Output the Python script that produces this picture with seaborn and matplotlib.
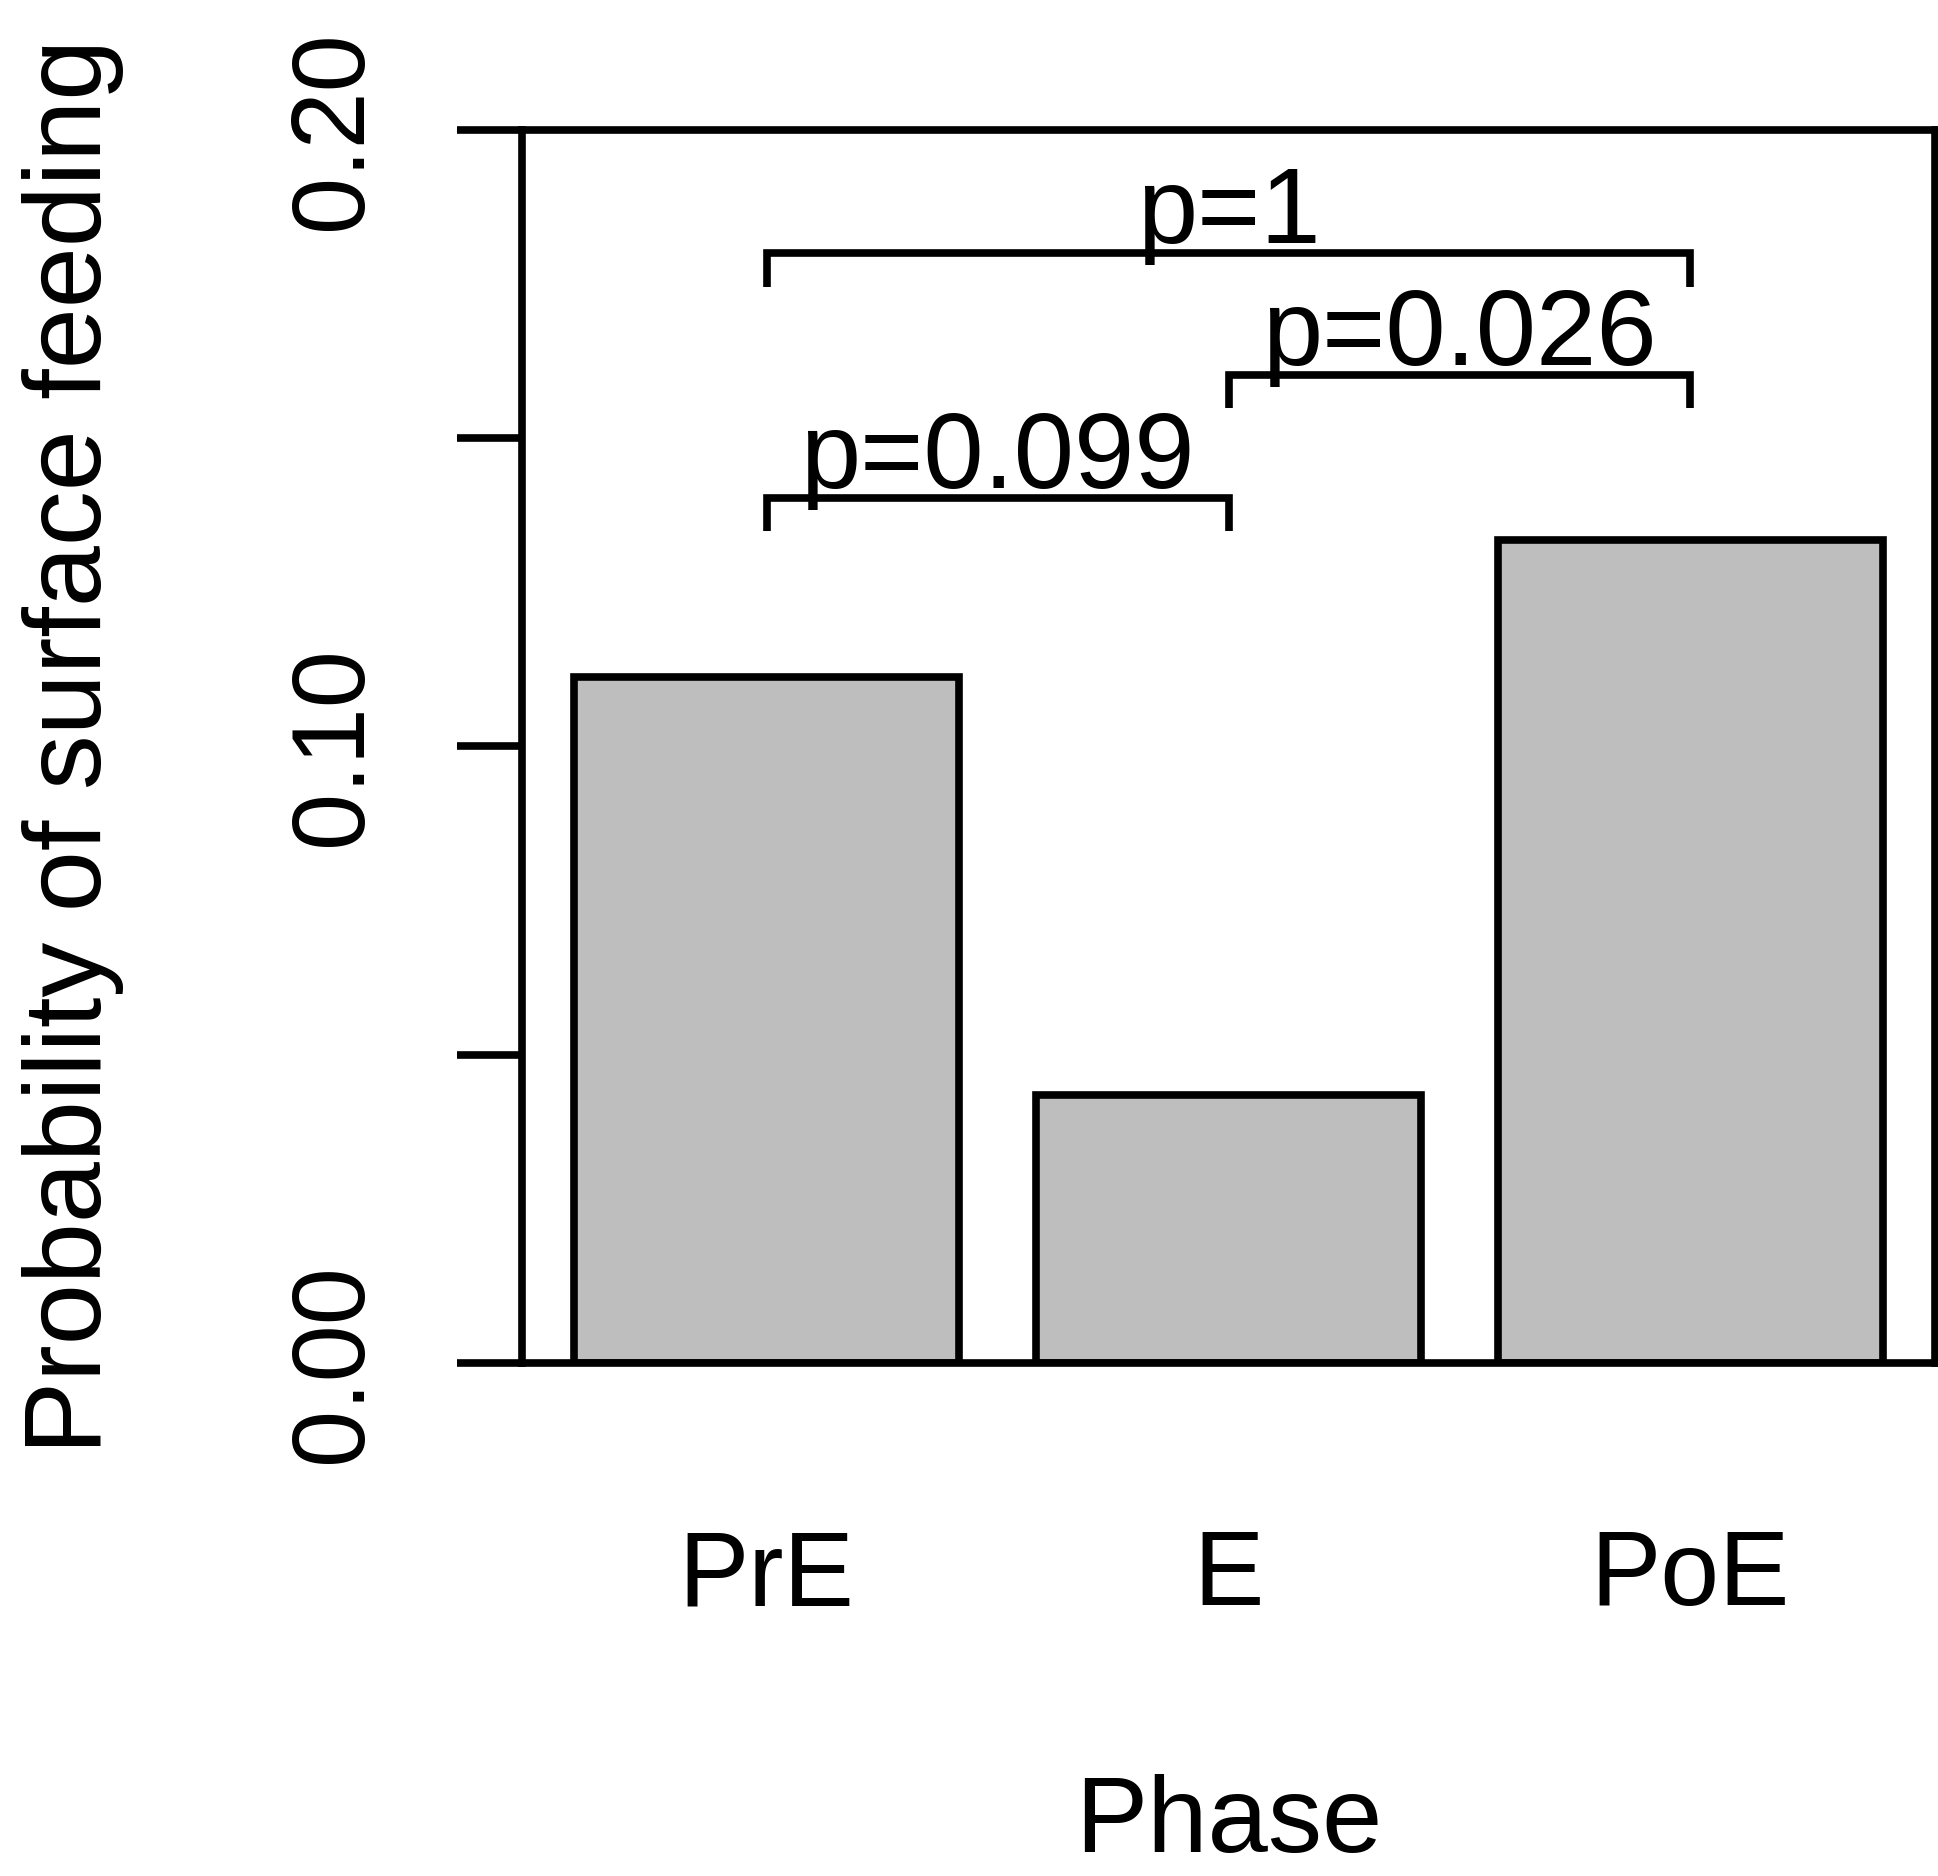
import matplotlib
matplotlib.use("Agg")
import matplotlib.pyplot as plt
import pandas as pd
import seaborn as sns

# data
phases = ["PrE", "E", "PoE"]
probs = [0.1112, 0.0435, 0.1335]

# pairwise comparisons drawn as brackets
comp_left = [0, 1, 0]
comp_right = [1, 2, 2]
comp_y = [0.1403, 0.1603, 0.1800]
comp_labels = ["p=0.099", "p=0.026", "p=1"]

y_ticks = [0.0, 0.05, 0.10, 0.15, 0.20]
y_ticklabels = ["0.00", "", "0.10", "", "0.20"]

sns.set_style("white")
plt.rcParams["font.family"] = ["Liberation Sans", "DejaVu Sans"]
plt.rcParams.update({"text.color": "black", "axes.labelcolor": "black",
                     "xtick.color": "black", "ytick.color": "black"})

df = pd.DataFrame({"Phase": phases, "Prob": probs})

W, H = 1938, 1876
fig = plt.figure(figsize=(W / 100, H / 100), dpi=100)
ax = fig.add_axes([522 / W, 1 - 1363 / H, 1413 / W, (1363 - 130) / H])

sns.barplot(data=df, x="Phase", y="Prob", order=phases, color="#bebebe",
            saturation=1, edgecolor="black", linewidth=5.5, width=0.833, ax=ax)

# significance brackets
drop = 0.0054
for i1, i2, y, lab in zip(comp_left, comp_right, comp_y, comp_labels):
    ax.plot([i1, i1, i2, i2], [y - drop, y, y, y - drop], color="black",
            lw=5.5, solid_capstyle="butt", solid_joinstyle="miter", clip_on=False)
    ax.text((i1 + i2) / 2, y + 0.0016, lab, ha="center", va="baseline",
            fontsize=78, color="black")

ax.set_xlim(-0.53, 2.53)
ax.set_ylim(0, 0.20)
ax.set_yticks(y_ticks)
ax.set_yticklabels(y_ticklabels, rotation=90, va="center")
ax.tick_params(axis="y", length=47, width=5.5, direction="out", pad=53,
               labelsize=74, left=True, colors="black")
ax.tick_params(axis="x", length=0, pad=119, labelsize=76, colors="black")

for s in ax.spines.values():
    s.set_visible(True)
    s.set_color("black")
    s.set_linewidth(5.5)

ax.set_xlabel("Phase", fontsize=78, va="baseline", color="black")
ax.xaxis.set_label_coords(0.5, -(1852 - 1363) / 1233)
ax.set_ylabel("Probability of surface feeding", fontsize=79, color="black")
ax.yaxis.set_label_coords(-(522 - 124) / 1413, 0.5)

fig.savefig("out.png", dpi=100)
